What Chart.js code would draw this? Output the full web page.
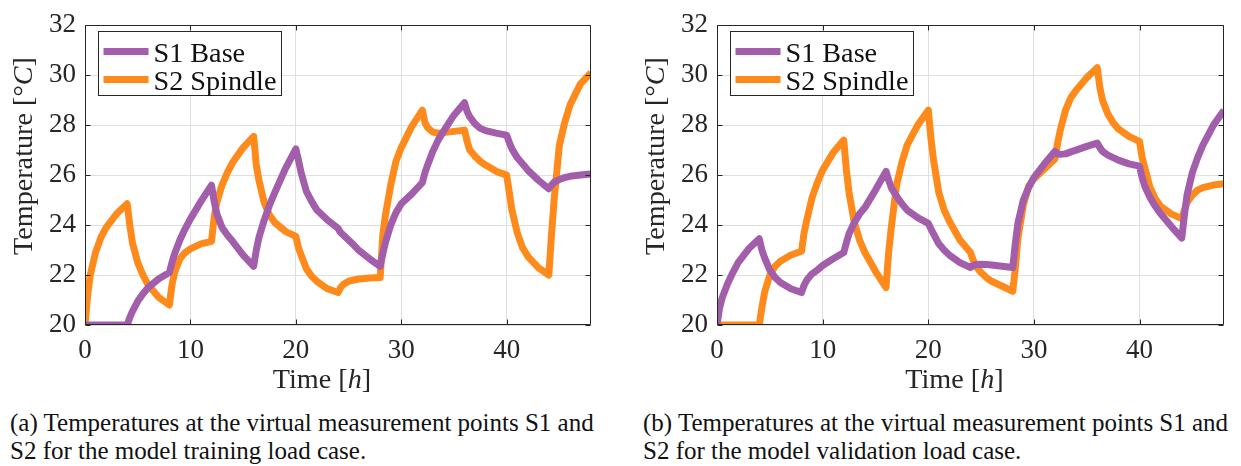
<!DOCTYPE html>
<html>
<head>
<meta charset="utf-8">
<script src="https://cdn.jsdelivr.net/npm/chart.js@4.4.1/dist/chart.umd.min.js"></script>
<style>
  html, body { margin:0; padding:0; background:#fff; }
  body { width:1241px; height:466px; overflow:hidden; position:relative; }
  .panel { position:absolute; top:0; height:400px; }
  .cap { position:absolute; white-space:nowrap; color:#111; line-height:28px; }
</style>
</head>
<body>
<div class="panel" style="left:0;width:620px"><canvas id="cA" width="620" height="400"></canvas></div>
<div class="panel" style="left:630px;width:611px"><canvas id="cB" width="611" height="400"></canvas></div>
<div class="cap" id="capA1" style="left:10px;top:409px"></div>
<div class="cap" id="capA2" style="left:10px;top:437px"></div>
<div class="cap" id="capB1" style="left:643px;top:409px"></div>
<div class="cap" id="capB2" style="left:643px;top:437px"></div>
<script>
// ---------------- data ----------------
const timeH = [0,0.25,0.5,1,1.5,2,3, 4,4.25,4.5,5,5.5,6,7, 8,8.25,8.5,9,9.5,10,11,
  12,12.25,12.5,13,13.5,14,15, 16,16.25,16.5,17,17.5,18,19, 20,20.25,20.5,21,21.5,22,23,
  24,24.25,24.5,25,25.5,26,27, 28,28.25,28.5,29,29.5,30,31, 32,32.25,32.5,33,33.5,34,35,
  36,36.25,36.5,37,37.5,38,39, 40,40.25,40.5,41,41.5,42,43, 44,44.25,44.5,45,45.5,46,47, 48];

const trainS1 = [20,20,20,20,20,20,20,
  20,20.3,20.55,20.95,21.25,21.5,21.85,
  22.1,22.5,22.85,23.4,23.85,24.25,24.95,
  25.6,24.95,24.45,23.9,23.6,23.35,22.8,
  22.35,23.0,23.5,24.2,24.8,25.3,26.25,
  27.05,26.6,26.1,25.35,24.95,24.6,24.2,
  23.87,23.7,23.6,23.4,23.2,22.98,22.65,
  22.35,22.85,23.3,24.0,24.5,24.85,25.25,
  25.7,26.1,26.4,26.95,27.4,27.75,28.4,
  28.9,28.55,28.33,28.05,27.87,27.78,27.68,
  27.6,27.3,27.05,26.7,26.45,26.2,25.8,
  25.45,25.6,25.72,25.82,25.9,25.95,26.0,
  26.05];

const trainS2 = [20,21.2,22.0,22.9,23.5,23.9,24.45,
  24.85,24.0,23.3,22.5,22.0,21.6,21.1,
  20.8,21.6,22.1,22.65,22.9,23.05,23.25,
  23.35,24.3,24.9,25.6,26.1,26.5,27.1,
  27.55,26.4,25.8,24.9,24.4,24.1,23.75,
  23.55,23.1,22.8,22.25,21.95,21.75,21.45,
  21.3,21.5,21.62,21.75,21.8,21.84,21.88,
  21.9,23.6,24.4,25.6,26.55,27.1,27.95,
  28.6,28.1,27.9,27.72,27.68,27.7,27.75,
  27.8,27.35,27.0,26.75,26.55,26.4,26.15,
  26.0,25.3,24.6,23.7,23.1,22.75,22.3,
  22.0,23.6,25.0,27.2,28.1,28.8,29.65,
  30.1];

const validS1 = [20,20.7,21.1,21.65,22.1,22.5,23.05,
  23.45,23.0,22.7,22.2,21.9,21.7,21.45,
  21.3,21.6,21.8,22.05,22.2,22.38,22.65,
  22.9,23.3,23.65,24.1,24.45,24.7,25.4,
  26.15,25.8,25.5,25.15,24.85,24.6,24.3,
  24.07,23.85,23.65,23.25,23.0,22.8,22.5,
  22.3,22.38,22.42,22.43,22.42,22.4,22.35,
  22.3,23.3,24.1,25.0,25.5,25.9,26.45,
  26.95,26.85,26.83,26.85,26.93,27.0,27.15,
  27.28,27.1,26.95,26.8,26.7,26.6,26.45,
  26.36,25.9,25.55,25.1,24.75,24.45,23.95,
  23.48,24.4,25.2,26.1,26.7,27.2,28.0,
  28.6];

const validS2 = [20,20,20,20,20,20,20,
  20,20.7,21.3,22.0,22.35,22.55,22.8,
  22.95,23.7,24.2,25.1,25.7,26.2,26.9,
  27.4,26.2,25.3,24.1,23.4,22.9,22.15,
  21.5,22.9,23.9,25.6,26.5,27.2,28.0,
  28.6,27.5,26.6,25.3,24.6,24.15,23.4,
  22.9,22.6,22.35,22.1,21.9,21.75,21.55,
  21.35,22.3,23.5,24.8,25.55,25.85,26.25,
  26.65,27.3,27.8,28.6,29.1,29.4,29.9,
  30.3,29.5,29.0,28.45,28.1,27.85,27.55,
  27.35,26.7,26.3,25.5,25.05,24.75,24.45,
  24.26,24.6,24.9,25.2,25.4,25.5,25.6,
  25.65];

const xTickVals = [0,10,20,30,40];
const yTickVals = [20,22,24,26,28,30,32];
const seriesNames = ['S1 Base','S2 Spindle'];
const seriesColors = ['#a25eaa','#ff8a1c'];
const xTitleParts = [['Time [',false],['h',true],[']',false]];
const yTitleParts = [['Temperature [°',false],['C',true],[']',false]];
const captionA = ['(a) Temperatures at the virtual measurement points S1 and','S2 for the model training load case.'];
const captionB = ['(b) Temperatures at the virtual measurement points S1 and','S2 for the model validation load case.'];

// ---------------- fonts ----------------
const FONT = "'Liberation Serif', 'Tinos', 'Times New Roman', 'DejaVu Serif', 'Noto Serif', serif";
const AX = '#262626';
const mc = document.createElement('canvas').getContext('2d');
function fitSize(text, target) { mc.font = '100px ' + FONT; return Math.round(target / mc.measureText(text).width * 1000) / 10; }
const tickSize = Math.min(27, fitSize('32', 29));
const legendSize = fitSize('S2 Spindle', 123);
const titleSize = fitSize('Temperature [°C]', 198);
const capSize = fitSize(captionA[0], 584);

function drawParts(ctx, parts, size, cx, baseY) {
  const fonts = parts.map(p => (p[1] ? 'italic ' : '') + size + 'px ' + FONT);
  let total = 0;
  const widths = parts.map((p,i) => { ctx.font = fonts[i]; const w = ctx.measureText(p[0]).width; total += w; return w; });
  let x = cx - total/2;
  ctx.textAlign = 'left'; ctx.textBaseline = 'alphabetic';
  parts.forEach((p,i) => { ctx.font = fonts[i]; ctx.fillText(p[0], x, baseY); x += widths[i]; });
}

const framePlugin = {
  id: 'frame',
  afterDraw(chart) {
    const ctx = chart.ctx, a = chart.chartArea, xs = chart.scales.x, ys = chart.scales.y;
    ctx.save();
    ctx.strokeStyle = AX; ctx.lineWidth = 1;
    const L = Math.round(a.left)+0.5, R = Math.round(a.right)-0.5, T = Math.round(a.top)+0.5, B = Math.round(a.bottom)-0.5;
    ctx.beginPath();
    ctx.moveTo(L,T); ctx.lineTo(R,T); ctx.lineTo(R,B); ctx.lineTo(L,B); ctx.closePath();
    xTickVals.forEach(v => { const p = Math.round(xs.getPixelForValue(v))+0.5; ctx.moveTo(p,B); ctx.lineTo(p,B-5); ctx.moveTo(p,T); ctx.lineTo(p,T+5); });
    yTickVals.forEach(v => { const p = Math.round(ys.getPixelForValue(v))+0.5; ctx.moveTo(L,p); ctx.lineTo(L+5,p); ctx.moveTo(R,p); ctx.lineTo(R-5,p); });
    ctx.stroke();

    // legend
    const bx = Math.round(a.left)+13.5, by = 31.5, bw = 183, bh = 64;
    ctx.fillStyle = '#fff'; ctx.fillRect(bx, by, bw, bh);
    ctx.strokeStyle = AX; ctx.lineWidth = 1; ctx.strokeRect(bx, by, bw, bh);
    const rows = [51.5, 79.5], bases = [62, 90];
    seriesNames.forEach((name,i) => {
      ctx.strokeStyle = seriesColors[i]; ctx.lineWidth = 7; ctx.lineCap = 'butt';
      ctx.beginPath(); ctx.moveTo(bx+5, rows[i]); ctx.lineTo(bx+50, rows[i]); ctx.stroke();
      ctx.fillStyle = '#111'; ctx.font = legendSize + 'px ' + FONT; ctx.textAlign='left'; ctx.textBaseline='alphabetic';
      ctx.fillText(name, bx+55, bases[i]);
    });

    // axis titles
    ctx.fillStyle = AX;
    drawParts(ctx, xTitleParts, titleSize, (a.left+a.right)/2 - 16, 388);
    ctx.save();
    ctx.translate(a.left - 53, (a.top+a.bottom)/2 - 19);
    ctx.rotate(-Math.PI/2);
    drawParts(ctx, yTitleParts, titleSize, 0, 0);
    ctx.restore();
    ctx.restore();
  }
};

function makeChart(id, s1, s2, chartLeft, chartRight, width) {
  const mk = (arr) => timeH.map((t,i) => ({x:t, y:arr[i]}));
  return new Chart(document.getElementById(id), {
    type: 'line',
    data: { datasets: [
      { label: seriesNames[0], data: mk(s1), borderColor: seriesColors[0], backgroundColor: seriesColors[0], borderWidth: 7, pointRadius: 0, tension: 0, borderJoinStyle: 'round', borderCapStyle: 'butt', fill: false },
      { label: seriesNames[1], data: mk(s2), borderColor: seriesColors[1], backgroundColor: seriesColors[1], borderWidth: 7, pointRadius: 0, tension: 0, borderJoinStyle: 'round', borderCapStyle: 'butt', fill: false }
    ]},
    options: {
      responsive: false, animation: false, devicePixelRatio: 1,
      layout: { padding: { left: 0, top: 20, right: width - chartRight, bottom: 0 } },
      plugins: { legend: { display: false }, tooltip: { enabled: false }, title: { display: false } },
      scales: {
        x: {
          type: 'linear', min: 0, max: 48,
          afterBuildTicks: s => { s.ticks = xTickVals.map(v => ({value: v})); },
          afterFit: s => { s.height = 75; },
          grid: { color: '#dfdfdf', lineWidth: 1, drawTicks: false },
          border: { display: false },
          ticks: { font: { family: FONT, size: tickSize }, color: AX, padding: 10, maxRotation: 0, autoSkip: false }
        },
        y: {
          type: 'linear', min: 20, max: 32,
          afterBuildTicks: s => { s.ticks = yTickVals.map(v => ({value: v})); },
          afterFit: s => { s.width = chartLeft; },
          grid: { color: '#dfdfdf', lineWidth: 1, drawTicks: false },
          border: { display: false },
          ticks: { font: { family: FONT, size: tickSize }, color: AX, padding: 9, autoSkip: false }
        }
      }
    },
    plugins: [framePlugin]
  });
}

makeChart('cA', trainS1, trainS2, 85, 591, 620);
makeChart('cB', validS1, validS2, 87, 594, 611);

[['capA1',captionA[0]],['capA2',captionA[1]],['capB1',captionB[0]],['capB2',captionB[1]]].forEach(([id,t]) => {
  const el = document.getElementById(id); el.textContent = t;
  el.style.fontFamily = FONT; el.style.fontSize = capSize + 'px';
});
</script>
</body>
</html>
